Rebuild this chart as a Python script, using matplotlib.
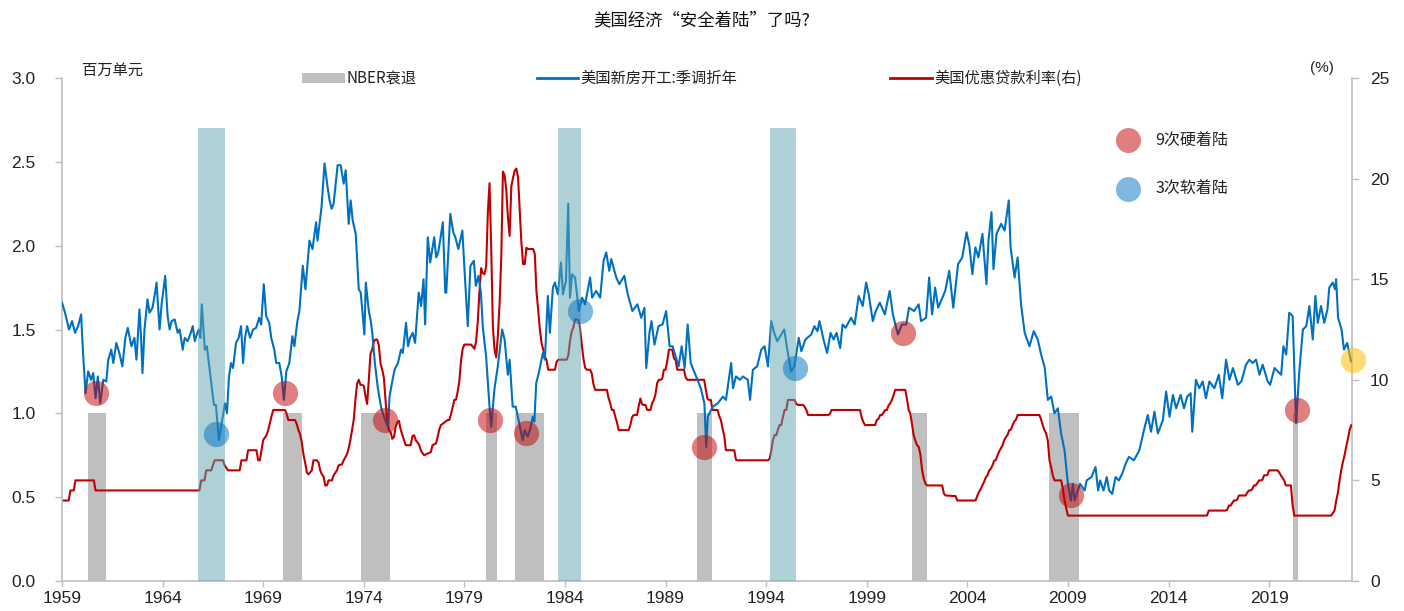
import matplotlib
matplotlib.use("Agg")
import matplotlib.pyplot as plt
from matplotlib import font_manager
from matplotlib.lines import Line2D
from matplotlib.patches import Rectangle
import numpy as np

# ---------------- data ----------------
# US housing starts, SAAR, million units (decimal-year dates)
hs_t = [1959.00, 1959.15, 1959.35, 1959.50, 1959.65, 1959.80, 1959.95, 1960.05, 1960.17, 1960.30,
        1960.45, 1960.55, 1960.67, 1960.78, 1960.90, 1961.05, 1961.20, 1961.30, 1961.45, 1961.55,
        1961.70, 1961.85, 1962.00, 1962.15, 1962.27, 1962.45, 1962.60, 1962.70, 1962.85, 1962.93,
        1963.00, 1963.10, 1963.25, 1963.35, 1963.50, 1963.60, 1963.70, 1963.85, 1963.95, 1964.13,
        1964.25, 1964.35, 1964.45, 1964.60, 1964.75, 1964.85, 1965.00, 1965.10, 1965.25, 1965.40,
        1965.50, 1965.60, 1965.70, 1965.80, 1965.88, 1965.95, 1966.10, 1966.20, 1966.30, 1966.45,
        1966.55, 1966.65, 1966.80, 1966.95, 1967.10, 1967.20, 1967.30, 1967.40, 1967.50, 1967.65,
        1967.78, 1967.90, 1968.00, 1968.10, 1968.20, 1968.35, 1968.50, 1968.65, 1968.80, 1968.90,
        1969.03, 1969.15, 1969.30, 1969.40, 1969.55, 1969.65, 1969.80, 1969.92, 1970.03, 1970.15,
        1970.30, 1970.45, 1970.55, 1970.70, 1970.80, 1970.97, 1971.10, 1971.30, 1971.45, 1971.63,
        1971.70, 1971.90, 1972.05, 1972.20, 1972.30, 1972.40, 1972.50, 1972.70, 1972.85, 1973.00,
        1973.10, 1973.25, 1973.35, 1973.45, 1973.60, 1973.75, 1973.85, 1974.03, 1974.10, 1974.25,
        1974.35, 1974.43, 1974.55, 1974.70, 1974.87, 1975.00, 1975.10, 1975.20, 1975.28, 1975.40,
        1975.53, 1975.70, 1975.85, 1975.94, 1976.10, 1976.20, 1976.30, 1976.43, 1976.55, 1976.73,
        1976.85, 1976.97, 1977.05, 1977.18, 1977.30, 1977.50, 1977.60, 1977.70, 1977.82, 1977.93,
        1978.05, 1978.10, 1978.30, 1978.45, 1978.55, 1978.70, 1978.90, 1979.00, 1979.17, 1979.30,
        1979.47, 1979.57, 1979.70, 1979.82, 1979.92, 1980.08, 1980.25, 1980.33, 1980.50, 1980.65,
        1980.88, 1981.00, 1981.16, 1981.25, 1981.40, 1981.55, 1981.66, 1981.90, 1982.00, 1982.15,
        1982.30, 1982.40, 1982.48, 1982.57, 1982.70, 1982.90, 1983.00, 1983.15, 1983.25, 1983.40,
        1983.50, 1983.65, 1983.80, 1983.90, 1984.05, 1984.16, 1984.25, 1984.35, 1984.50, 1984.69,
        1984.85, 1985.00, 1985.25, 1985.35, 1985.55, 1985.75, 1985.92, 1986.05, 1986.20, 1986.30,
        1986.55, 1986.70, 1986.95, 1987.12, 1987.35, 1987.60, 1987.79, 1987.95, 1988.04, 1988.20,
        1988.30, 1988.45, 1988.65, 1988.85, 1989.03, 1989.20, 1989.35, 1989.50, 1989.65, 1989.80,
        1989.95, 1990.10, 1990.25, 1990.52, 1990.75, 1990.93, 1991.02, 1991.10, 1991.35, 1991.60,
        1991.85, 1992.00, 1992.26, 1992.35, 1992.50, 1992.70, 1992.85, 1993.09, 1993.20, 1993.34,
        1993.55, 1993.76, 1993.92, 1994.09, 1994.25, 1994.40, 1994.55, 1994.70, 1994.90, 1995.05,
        1995.24, 1995.40, 1995.62, 1995.75, 1995.95, 1996.24, 1996.40, 1996.55, 1996.65, 1996.85,
        1997.03, 1997.20, 1997.35, 1997.50, 1997.68, 1997.80, 1997.95, 1998.22, 1998.40, 1998.60,
        1998.80, 1998.97, 1999.10, 1999.30, 1999.45, 1999.65, 1999.90, 2000.14, 2000.30, 2000.55,
        2000.75, 2000.96, 2001.10, 2001.35, 2001.58, 2001.70, 2001.95, 2002.10, 2002.25, 2002.40,
        2002.55, 2002.90, 2003.10, 2003.30, 2003.54, 2003.75, 2003.96, 2004.10, 2004.25, 2004.40,
        2004.55, 2004.75, 2004.95, 2005.05, 2005.20, 2005.30, 2005.45, 2005.68, 2005.85, 2006.06,
        2006.15, 2006.35, 2006.50, 2006.67, 2006.85, 2007.09, 2007.30, 2007.50, 2007.67, 2007.85,
        2008.00, 2008.17, 2008.33, 2008.50, 2008.66, 2008.83, 2009.00, 2009.15, 2009.25, 2009.33,
        2009.60, 2009.83, 2009.93, 2010.17, 2010.37, 2010.50, 2010.60, 2010.77, 2010.93, 2011.05,
        2011.20, 2011.37, 2011.53, 2011.70, 2011.87, 2012.03, 2012.28, 2012.55, 2012.80, 2012.97,
        2013.13, 2013.30, 2013.47, 2013.72, 2013.88, 2014.05, 2014.22, 2014.38, 2014.60, 2014.77,
        2014.93, 2015.10, 2015.18, 2015.36, 2015.53, 2015.70, 2015.86, 2016.03, 2016.28, 2016.50,
        2016.67, 2016.86, 2017.03, 2017.20, 2017.45, 2017.62, 2017.85, 2018.02, 2018.18, 2018.35,
        2018.52, 2018.68, 2018.93, 2019.05, 2019.27, 2019.43, 2019.60, 2019.71, 2019.85, 2020.00,
        2020.17, 2020.34, 2020.50, 2020.68, 2020.85, 2021.00, 2021.17, 2021.30, 2021.42, 2021.58,
        2021.74, 2021.90, 2021.99, 2022.16, 2022.28, 2022.33, 2022.43, 2022.60, 2022.72, 2022.88,
        2023.07]
hs_v = [1.66, 1.60, 1.50, 1.55, 1.48, 1.52, 1.59, 1.35, 1.12, 1.25,
        1.20, 1.24, 1.09, 1.22, 1.06, 1.20, 1.19, 1.32, 1.38, 1.30,
        1.42, 1.36, 1.28, 1.45, 1.51, 1.40, 1.45, 1.32, 1.62, 1.45,
        1.24, 1.50, 1.68, 1.60, 1.63, 1.70, 1.78, 1.50, 1.65, 1.82,
        1.58, 1.50, 1.55, 1.56, 1.48, 1.50, 1.38, 1.45, 1.43, 1.48,
        1.52, 1.43, 1.47, 1.50, 1.45, 1.65, 1.38, 1.40, 1.30, 1.15,
        1.05, 1.05, 0.84, 0.95, 1.06, 1.00, 1.22, 1.30, 1.27, 1.42,
        1.45, 1.52, 1.30, 1.45, 1.52, 1.45, 1.50, 1.51, 1.57, 1.53,
        1.77, 1.58, 1.54, 1.45, 1.38, 1.30, 1.30, 1.22, 1.08, 1.25,
        1.30, 1.46, 1.40, 1.55, 1.61, 1.88, 1.74, 2.03, 1.98, 2.14,
        2.03, 2.23, 2.49, 2.35, 2.27, 2.22, 2.25, 2.48, 2.48, 2.37,
        2.45, 2.13, 2.27, 2.15, 2.07, 1.74, 1.72, 1.47, 1.78, 1.61,
        1.55, 1.47, 1.30, 1.15, 1.03, 0.98, 0.95, 0.92, 1.10, 1.18,
        1.26, 1.30, 1.38, 1.36, 1.54, 1.40, 1.45, 1.48, 1.42, 1.72,
        1.64, 1.80, 1.53, 2.05, 1.90, 2.05, 1.93, 1.96, 2.05, 2.14,
        1.72, 1.72, 2.19, 2.08, 2.05, 1.98, 2.09, 1.87, 1.52, 1.88,
        1.91, 1.76, 1.82, 1.72, 1.51, 1.34, 1.04, 0.92, 1.15, 1.27,
        1.50, 1.44, 1.23, 1.32, 1.04, 1.04, 0.98, 0.84, 0.90, 0.86,
        0.92, 0.98, 0.95, 1.18, 1.24, 1.36, 1.32, 1.70, 1.48, 1.75,
        1.78, 1.71, 1.90, 1.71, 1.79, 2.25, 1.69, 1.83, 1.81, 1.61,
        1.69, 1.65, 1.81, 1.69, 1.73, 1.69, 1.91, 1.96, 1.85, 1.92,
        1.81, 1.77, 1.82, 1.71, 1.61, 1.65, 1.57, 1.63, 1.27, 1.48,
        1.55, 1.41, 1.52, 1.53, 1.61, 1.40, 1.40, 1.34, 1.28, 1.40,
        1.27, 1.53, 1.30, 1.22, 1.15, 1.06, 0.80, 0.98, 1.04, 1.06,
        1.10, 1.08, 1.30, 1.15, 1.22, 1.20, 1.22, 1.20, 1.08, 1.26,
        1.28, 1.38, 1.40, 1.28, 1.55, 1.48, 1.43, 1.46, 1.50, 1.38,
        1.25, 1.28, 1.45, 1.37, 1.44, 1.47, 1.52, 1.49, 1.55, 1.44,
        1.36, 1.48, 1.44, 1.48, 1.39, 1.53, 1.51, 1.57, 1.53, 1.70,
        1.64, 1.78, 1.71, 1.55, 1.61, 1.66, 1.59, 1.73, 1.59, 1.47,
        1.53, 1.53, 1.63, 1.61, 1.65, 1.55, 1.57, 1.81, 1.59, 1.75,
        1.63, 1.73, 1.85, 1.63, 1.89, 1.93, 2.08, 2.00, 1.83, 1.99,
        1.93, 2.07, 1.77, 2.03, 2.20, 1.86, 2.07, 2.13, 2.09, 2.27,
        1.99, 1.81, 1.93, 1.65, 1.48, 1.40, 1.49, 1.44, 1.35, 1.27,
        1.08, 1.10, 1.00, 1.03, 0.88, 0.78, 0.58, 0.48, 0.58, 0.48,
        0.58, 0.54, 0.60, 0.62, 0.68, 0.54, 0.60, 0.54, 0.62, 0.54,
        0.52, 0.62, 0.60, 0.64, 0.70, 0.74, 0.72, 0.78, 0.91, 0.99,
        0.89, 1.01, 0.88, 0.96, 1.13, 0.98, 1.11, 1.03, 1.11, 1.03,
        1.10, 1.12, 0.89, 1.20, 1.15, 1.19, 1.09, 1.19, 1.15, 1.23,
        1.09, 1.32, 1.20, 1.27, 1.17, 1.19, 1.29, 1.32, 1.30, 1.32,
        1.23, 1.29, 1.19, 1.17, 1.27, 1.25, 1.23, 1.40, 1.35, 1.60,
        1.58, 0.94, 1.25, 1.50, 1.52, 1.64, 1.44, 1.70, 1.54, 1.64,
        1.54, 1.62, 1.75, 1.78, 1.74, 1.80, 1.57, 1.50, 1.38, 1.42,
        1.31]

# US bank prime loan rate, %, monthly averages at turning points (year, month, rate)
prime_ym = [(1959, 1, 4.00), (1959, 5, 4.00), (1959, 6, 4.50), (1959, 8, 4.50), (1959, 9, 5.00),
            (1960, 8, 5.00), (1960, 9, 4.50), (1965, 11, 4.50), (1965, 12, 5.00), (1966, 2, 5.00),
            (1966, 3, 5.50), (1966, 6, 5.50), (1966, 7, 5.75), (1966, 8, 6.00), (1967, 1, 6.00),
            (1967, 2, 5.75), (1967, 4, 5.50), (1967, 11, 5.50), (1967, 12, 6.00), (1968, 3, 6.00),
            (1968, 4, 6.50), (1968, 9, 6.50), (1968, 10, 6.00), (1968, 11, 6.00), (1968, 12, 6.50),
            (1969, 1, 7.00), (1969, 3, 7.25), (1969, 4, 7.50), (1969, 6, 8.20), (1969, 7, 8.50),
            (1970, 2, 8.50), (1970, 3, 8.30), (1970, 4, 8.00), (1970, 8, 8.00), (1970, 9, 7.80),
            (1970, 10, 7.50), (1970, 11, 7.30), (1970, 12, 6.90), (1971, 1, 6.30), (1971, 2, 5.90),
            (1971, 3, 5.40), (1971, 4, 5.30), (1971, 5, 5.40), (1971, 6, 5.50), (1971, 7, 6.00),
            (1971, 9, 6.00), (1971, 10, 5.90), (1971, 11, 5.50), (1971, 12, 5.30), (1972, 1, 5.20),
            (1972, 2, 4.75), (1972, 3, 4.75), (1972, 4, 5.00), (1972, 6, 5.00), (1972, 7, 5.25),
            (1972, 9, 5.50), (1972, 10, 5.75), (1972, 12, 5.80), (1973, 1, 6.00), (1973, 3, 6.30),
            (1973, 4, 6.60), (1973, 5, 7.00), (1973, 6, 7.50), (1973, 7, 8.00), (1973, 8, 9.00),
            (1973, 9, 9.80), (1973, 10, 10.00), (1973, 11, 9.75), (1973, 12, 9.75), (1974, 1, 9.70),
            (1974, 2, 9.20), (1974, 3, 8.80), (1974, 4, 10.00), (1974, 5, 11.30), (1974, 6, 11.50),
            (1974, 7, 11.90), (1974, 8, 12.00), (1974, 9, 12.00), (1974, 10, 11.70), (1974, 11, 10.80),
            (1974, 12, 10.50), (1975, 1, 10.10), (1975, 2, 8.96), (1975, 3, 7.93), (1975, 4, 7.50),
            (1975, 5, 7.40), (1975, 6, 7.07), (1975, 7, 7.15), (1975, 8, 7.66), (1975, 9, 7.88),
            (1975, 10, 7.96), (1975, 11, 7.53), (1975, 12, 7.26), (1976, 1, 7.00), (1976, 2, 6.75),
            (1976, 5, 6.75), (1976, 6, 7.20), (1976, 7, 7.25), (1976, 8, 7.00), (1976, 10, 6.78),
            (1976, 11, 6.50), (1976, 12, 6.35), (1977, 1, 6.25), (1977, 5, 6.41), (1977, 6, 6.75),
            (1977, 8, 6.83), (1977, 9, 7.13), (1977, 10, 7.52), (1977, 11, 7.75), (1978, 3, 8.00),
            (1978, 4, 8.00), (1978, 5, 8.27), (1978, 6, 8.63), (1978, 7, 9.00), (1978, 8, 9.01),
            (1978, 9, 9.41), (1978, 10, 9.94), (1978, 11, 10.94), (1978, 12, 11.55), (1979, 1, 11.75),
            (1979, 5, 11.75), (1979, 6, 11.65), (1979, 7, 11.54), (1979, 8, 11.91), (1979, 9, 12.90),
            (1979, 10, 14.39), (1979, 11, 15.55), (1979, 12, 15.30), (1980, 1, 15.25), (1980, 2, 15.63),
            (1980, 3, 18.31), (1980, 4, 19.77), (1980, 5, 16.57), (1980, 6, 12.63), (1980, 7, 11.48),
            (1980, 8, 11.12), (1980, 9, 12.23), (1980, 10, 13.79), (1980, 11, 16.06), (1980, 12, 20.35),
            (1981, 1, 20.16), (1981, 2, 19.43), (1981, 3, 18.05), (1981, 4, 17.15), (1981, 5, 19.61),
            (1981, 6, 20.03), (1981, 7, 20.39), (1981, 8, 20.50), (1981, 9, 20.08), (1981, 10, 18.45),
            (1981, 11, 16.84), (1981, 12, 15.75), (1982, 1, 15.75), (1982, 2, 16.56), (1982, 3, 16.50),
            (1982, 6, 16.50), (1982, 7, 16.26), (1982, 8, 14.39), (1982, 9, 13.50), (1982, 10, 12.52),
            (1982, 11, 11.85), (1982, 12, 11.50), (1983, 1, 11.16), (1983, 2, 10.98), (1983, 3, 10.50),
            (1983, 7, 10.50), (1983, 8, 10.89), (1983, 9, 11.00), (1984, 2, 11.00), (1984, 3, 11.21),
            (1984, 4, 11.93), (1984, 5, 12.39), (1984, 6, 12.60), (1984, 7, 13.00), (1984, 8, 13.00),
            (1984, 9, 12.97), (1984, 10, 12.58), (1984, 11, 11.77), (1984, 12, 11.06), (1985, 1, 10.61),
            (1985, 2, 10.50), (1985, 4, 10.50), (1985, 5, 10.31), (1985, 6, 9.78), (1985, 7, 9.50),
            (1986, 2, 9.50), (1986, 3, 9.10), (1986, 4, 8.83), (1986, 5, 8.50), (1986, 6, 8.50),
            (1986, 7, 8.16), (1986, 8, 7.90), (1986, 9, 7.50), (1987, 3, 7.50), (1987, 4, 7.75),
            (1987, 5, 8.14), (1987, 6, 8.25), (1987, 8, 8.25), (1987, 9, 8.70), (1987, 10, 9.07),
            (1987, 11, 8.78), (1987, 12, 8.75), (1988, 1, 8.75), (1988, 2, 8.51), (1988, 3, 8.50),
            (1988, 4, 8.50), (1988, 5, 8.84), (1988, 6, 9.00), (1988, 7, 9.29), (1988, 8, 9.84),
            (1988, 9, 10.00), (1988, 10, 10.00), (1988, 11, 10.05), (1988, 12, 10.50), (1989, 1, 10.50),
            (1989, 2, 10.93), (1989, 3, 11.50), (1989, 5, 11.50), (1989, 6, 11.07), (1989, 7, 10.98),
            (1989, 8, 10.50), (1989, 12, 10.50), (1990, 1, 10.11), (1990, 2, 10.00), (1990, 12, 10.00),
            (1991, 1, 9.52), (1991, 2, 9.05), (1991, 3, 9.00), (1991, 4, 9.00), (1991, 5, 8.50),
            (1991, 8, 8.50), (1991, 9, 8.20), (1991, 10, 8.00), (1991, 11, 7.58), (1991, 12, 7.21),
            (1992, 1, 6.50), (1992, 6, 6.50), (1992, 7, 6.02), (1992, 8, 6.00), (1994, 2, 6.00),
            (1994, 3, 6.06), (1994, 4, 6.45), (1994, 5, 6.99), (1994, 6, 7.25), (1994, 7, 7.25),
            (1994, 8, 7.51), (1994, 9, 7.75), (1994, 10, 7.75), (1994, 11, 8.15), (1994, 12, 8.50),
            (1995, 1, 8.50), (1995, 2, 9.00), (1995, 6, 9.00), (1995, 7, 8.80), (1995, 8, 8.75),
            (1995, 11, 8.75), (1995, 12, 8.65), (1996, 1, 8.50), (1996, 2, 8.25), (1997, 2, 8.25),
            (1997, 3, 8.30), (1997, 4, 8.50), (1998, 9, 8.50), (1998, 10, 8.12), (1998, 11, 7.89),
            (1998, 12, 7.75), (1999, 6, 7.75), (1999, 7, 8.00), (1999, 8, 8.06), (1999, 9, 8.25),
            (1999, 10, 8.25), (1999, 11, 8.37), (1999, 12, 8.50), (2000, 1, 8.50), (2000, 2, 8.73),
            (2000, 3, 8.83), (2000, 4, 9.00), (2000, 5, 9.24), (2000, 6, 9.50), (2000, 12, 9.50),
            (2001, 1, 9.05), (2001, 2, 8.50), (2001, 3, 8.32), (2001, 4, 7.80), (2001, 5, 7.24),
            (2001, 6, 6.98), (2001, 7, 6.75), (2001, 8, 6.67), (2001, 9, 6.28), (2001, 10, 5.53),
            (2001, 11, 5.10), (2001, 12, 4.84), (2002, 1, 4.75), (2002, 10, 4.75), (2002, 11, 4.35),
            (2002, 12, 4.25), (2003, 6, 4.22), (2003, 7, 4.00), (2004, 5, 4.00), (2004, 6, 4.01),
            (2004, 7, 4.25), (2004, 8, 4.43), (2004, 9, 4.58), (2004, 10, 4.75), (2004, 11, 4.93),
            (2004, 12, 5.15), (2005, 1, 5.25), (2005, 2, 5.49), (2005, 3, 5.58), (2005, 4, 5.75),
            (2005, 5, 5.98), (2005, 6, 6.01), (2005, 7, 6.25), (2005, 8, 6.44), (2005, 9, 6.59),
            (2005, 10, 6.75), (2005, 11, 7.00), (2005, 12, 7.15), (2006, 1, 7.26), (2006, 2, 7.50),
            (2006, 3, 7.53), (2006, 4, 7.75), (2006, 5, 7.93), (2006, 6, 8.02), (2006, 7, 8.25),
            (2007, 8, 8.25), (2007, 9, 8.03), (2007, 10, 7.74), (2007, 11, 7.50), (2007, 12, 7.33),
            (2008, 1, 6.98), (2008, 2, 6.00), (2008, 3, 5.66), (2008, 4, 5.24), (2008, 5, 5.00),
            (2008, 9, 5.00), (2008, 10, 4.56), (2008, 11, 4.00), (2008, 12, 3.61), (2009, 1, 3.25),
            (2015, 11, 3.25), (2015, 12, 3.26), (2016, 1, 3.50), (2016, 11, 3.50), (2016, 12, 3.54),
            (2017, 1, 3.75), (2017, 2, 3.75), (2017, 3, 3.88), (2017, 4, 4.00), (2017, 5, 4.00),
            (2017, 6, 4.05), (2017, 7, 4.25), (2017, 11, 4.25), (2017, 12, 4.40), (2018, 1, 4.50),
            (2018, 2, 4.50), (2018, 3, 4.58), (2018, 4, 4.75), (2018, 5, 4.75), (2018, 6, 4.87),
            (2018, 7, 5.00), (2018, 8, 5.00), (2018, 9, 5.03), (2018, 10, 5.25), (2018, 11, 5.25),
            (2018, 12, 5.28), (2019, 1, 5.50), (2019, 6, 5.50), (2019, 7, 5.40), (2019, 8, 5.25),
            (2019, 9, 5.13), (2019, 10, 4.99), (2019, 11, 4.75), (2020, 2, 4.75), (2020, 3, 3.78),
            (2020, 4, 3.25), (2022, 2, 3.25), (2022, 3, 3.37), (2022, 4, 3.50), (2022, 5, 3.98),
            (2022, 6, 4.38), (2022, 7, 4.99), (2022, 8, 5.50), (2022, 9, 5.91), (2022, 10, 6.25),
            (2022, 11, 6.68), (2022, 12, 7.07), (2023, 1, 7.50), (2023, 2, 7.74)]

# NBER recessions (start, end) in decimal years
nber = [(1960.27, 1961.17), (1969.97, 1970.94), (1973.87, 1975.28), (1980.08, 1980.61),
        (1981.54, 1982.97), (1990.55, 1991.30), (2001.26, 2001.98), (2008.05, 2009.57),
        (2020.21, 2020.44)]
# Periods of tightening that ended in a soft landing
soft_periods = [(1965.74, 1967.08), (1983.63, 1984.82), (1994.20, 1995.50)]

# Landing markers placed on the housing-starts trough (decimal year, million units)
hard_t = [1960.71, 1970.06, 1975.03, 1980.25, 1982.07, 1990.93, 2000.79, 2009.16, 2020.37]
hard_v = [1.12, 1.12, 0.96, 0.96, 0.88, 0.80, 1.48, 0.51, 1.02]
soft_t = [1966.66, 1984.77, 1995.41]
soft_v = [0.875, 1.61, 1.27]
now_t = [2023.15]
now_v = [1.32]

xticks = [1959, 1964, 1969, 1974, 1979, 1984, 1989, 1994, 1999, 2004, 2009, 2014, 2019]

# ---------------- style ----------------
CJK = "Noto Sans CJK SC"
names = {f.name for f in font_manager.fontManager.ttflist}
NUM = "Liberation Sans Narrow" if "Liberation Sans Narrow" in names else "Liberation Sans"
plt.rcParams["font.family"] = [CJK, "DejaVu Sans"]

BLUE = "#0070c0"
RED = "#c00000"
GRAY = "#bfbfbf"
TEAL = "#5fa5b3"
AXC = "#bfbfbf"

LEFT_MAX, RIGHT_MAX = 3.0, 25.0

fig = plt.figure(figsize=(14.04, 6.11), dpi=100)
ax2 = fig.add_axes([62 / 1404, 30 / 611, (1352 - 62) / 1404, (581 - 78) / 611])
ax = ax2.twinx()          # left-scale axes drawn above the right-scale one
ax.yaxis.tick_left()
ax.yaxis.set_label_position("left")
ax2.yaxis.tick_right()
ax2.yaxis.set_label_position("right")

# recession bands sit under both lines (drawn in the right-scale axes, scaled to 1.0 on the left)
for s, e in nber:
    ax2.bar(s, 1.0 * RIGHT_MAX / LEFT_MAX, width=e - s, align="edge", color=GRAY,
            zorder=1, linewidth=0)

prime_t = [y + (m - 1) / 12 for y, m, _ in prime_ym]
prime_v = [r for _, _, r in prime_ym]
ax2.plot(prime_t, prime_v, color=RED, lw=1.5, zorder=3)

ax.plot(hs_t, hs_v, color=BLUE, lw=1.5, zorder=3)

# soft-landing windows: translucent, over the lines
for s, e in soft_periods:
    ax.bar(s, 2.7, width=e - s, align="edge", color=TEAL, alpha=0.5, zorder=4, linewidth=0)

ax.scatter(hard_t, hard_v, s=330, color="#c00000", alpha=0.5, linewidths=0, zorder=5)
ax.scatter(soft_t, soft_v, s=330, color="#0070c0", alpha=0.5, linewidths=0, zorder=5)
ax.scatter(now_t, now_v, s=330, color="#ffc000", alpha=0.55, linewidths=0, zorder=5,
           clip_on=False)

# axes limits and ticks
ax.set_xlim(1959, 2023.12)
ax.set_ylim(0, LEFT_MAX)
ax2.set_ylim(0, RIGHT_MAX)
ax.set_yticks(np.arange(0, 3.01, 0.5))
ax.set_yticklabels([f"{v:.1f}" for v in np.arange(0, 3.01, 0.5)])
ax2.set_yticks(range(0, 26, 5))
ax2.set_xticks(xticks)
ax2.set_xticklabels([str(y) for y in xticks])

for a in (ax, ax2):
    a.spines["top"].set_visible(False)
    for side in ("left", "right", "bottom"):
        a.spines[side].set_color(AXC)
        a.spines[side].set_linewidth(1.2)
    a.tick_params(colors=AXC, width=1.0, length=5, labelcolor="#222222", labelsize=12.5)
    for lab in a.get_yticklabels() + a.get_xticklabels():
        lab.set_family([NUM, "DejaVu Sans"])
ax.spines["right"].set_visible(False)
ax.spines["bottom"].set_visible(False)
ax2.spines["left"].set_visible(False)
ax2.tick_params(axis="x", length=4, pad=3)
ax.tick_params(axis="y", pad=14)
ax2.tick_params(axis="y", pad=8)

# title and unit labels
fig.text(0.5, 1 - 20 / 611, "美国经济“安全着陆”了吗?", ha="center", va="center",
         fontsize=12.5, color="#111111")
fig.text(82 / 1404, 1 - 70 / 611, "百万单元", ha="left", va="center", fontsize=11,
         color="#222222")
fig.text(1322 / 1404, 1 - 68 / 611, "(%)", ha="center", va="center", fontsize=11,
         color="#222222", family=[NUM, "DejaVu Sans"])

# top legend row
ly = 1 - 78 / 611
fig.add_artist(Rectangle((302 / 1404, ly - 5 / 611), 43 / 1404, 10 / 611,
                         transform=fig.transFigure, color=GRAY, lw=0))
fig.text(347 / 1404, ly, "NBER衰退", ha="left", va="center", fontsize=11, color="#222222")
fig.add_artist(Line2D([537 / 1404, 578 / 1404], [ly, ly], transform=fig.transFigure,
                      color=BLUE, lw=2))
fig.text(580 / 1404, ly, "美国新房开工:季调折年", ha="left", va="center", fontsize=11,
         color="#222222")
fig.add_artist(Line2D([890 / 1404, 932 / 1404], [ly, ly], transform=fig.transFigure,
                      color=RED, lw=2))
fig.text(934 / 1404, ly, "美国优惠贷款利率(右)", ha="left", va="center", fontsize=11,
         color="#222222")

# marker legend
for yy, col, lab in [(140, "#c00000", "9次硬着陆"), (189, "#0070c0", "3次软着陆")]:
    fig.add_artist(Line2D([1128 / 1404], [1 - yy / 611], transform=fig.transFigure,
                          marker="o", markersize=18, color=col, alpha=0.5, lw=0,
                          markeredgewidth=0))
    fig.text(1155 / 1404, 1 - yy / 611, lab, ha="left", va="center", fontsize=11.5,
             color="#222222")

fig.savefig("out.png", dpi=100)
